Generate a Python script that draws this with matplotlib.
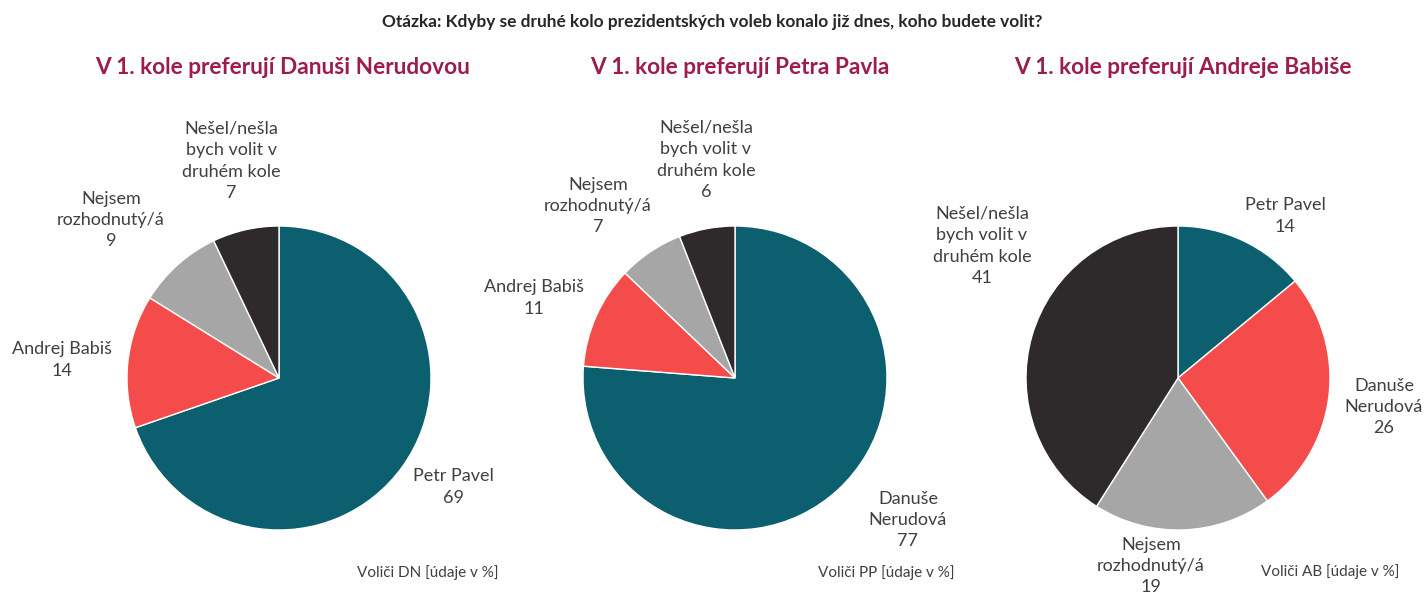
import matplotlib.pyplot as plt

plt.rcParams['font.family'] = ['Lato', 'DejaVu Sans']

W, H = 1424, 600

otazka = 'Otázka: Kdyby se druhé kolo prezidentských voleb konalo již dnes, koho budete volit?'
nadpisy = ['V 1. kole preferují Danuši Nerudovou',
           'V 1. kole preferují Petra Pavla',
           'V 1. kole preferují Andreje Babiše']
poznamky = ['Voliči DN [údaje v %]', 'Voliči PP [údaje v %]', 'Voliči AB [údaje v %]']

# kategorie v poradi po smeru hodin od 12 h
kategorie_dn = ['Petr Pavel', 'Andrej Babiš', 'Nejsem\nrozhodnutý/á', 'Nešel/nešla\nbych volit v\ndruhém kole']
hodnoty_dn = [69, 14, 9, 7]
kategorie_pp = ['Danuše\nNerudová', 'Andrej Babiš', 'Nejsem\nrozhodnutý/á', 'Nešel/nešla\nbych volit v\ndruhém kole']
hodnoty_pp = [77, 11, 7, 6]
kategorie_ab = ['Petr Pavel', 'Danuše\nNerudová', 'Nejsem\nrozhodnutý/á', 'Nešel/nešla\nbych volit v\ndruhém kole']
hodnoty_ab = [14, 26, 19, 41]

barvy = ['#0c5f6e', '#f44c4b', '#a6a6a6', '#2e2a2b']

# pozice popisku (pixely obrazku) pro kazdou vysec
popisky_px = [
    [(453, 487), (62, 360), (111, 220), (231, 161)],
    [(908, 520), (534, 298), (598, 206), (706, 160)],
    [(1285, 216), (1384, 407), (1151, 566), (982, 246)],
]
stredy = [(279, 378), (735, 378), (1178, 378)]
R = 152
nadpis_x = [283, 740, 1183]
poznamka_px = [(428, 573), (886, 573), (1330, 572)]

data = [(kategorie_dn, hodnoty_dn), (kategorie_pp, hodnoty_pp), (kategorie_ab, hodnoty_ab)]

fig = plt.figure(figsize=(W / 100, H / 100), dpi=100)
fig.text(712 / W, 1 - 22 / H, otazka, ha='center', va='center',
         fontsize=12.4, fontweight='bold', color='#262626')

for i, (kat, hod) in enumerate(data):
    cx, cy = stredy[i]
    ax = fig.add_axes([(cx - R) / W, 1 - (cy + R) / H, 2 * R / W, 2 * R / H])
    ax.pie(hod, colors=barvy, startangle=90, counterclock=False,
           wedgeprops=dict(edgecolor='white', linewidth=1))
    ax.set_xlim(-1, 1)
    ax.set_ylim(-1, 1)
    ax.set_aspect('equal')
    ax.axis('off')
    for k, v, (px, py) in zip(kat, hod, popisky_px[i]):
        fig.text(px / W, 1 - py / H, k + '\n' + str(v), ha='center', va='center',
                 fontsize=13, color='#404040', linespacing=1.42)
    fig.text(nadpis_x[i] / W, 1 - 68 / H, nadpisy[i], ha='center', va='center',
             fontsize=16.3, fontweight='bold', color='#9c1c4e')
    px, py = poznamka_px[i]
    fig.text(px / W, 1 - py / H, poznamky[i], ha='center', va='center',
             fontsize=11, color='#404040')

plt.savefig('out.png', dpi=100)
